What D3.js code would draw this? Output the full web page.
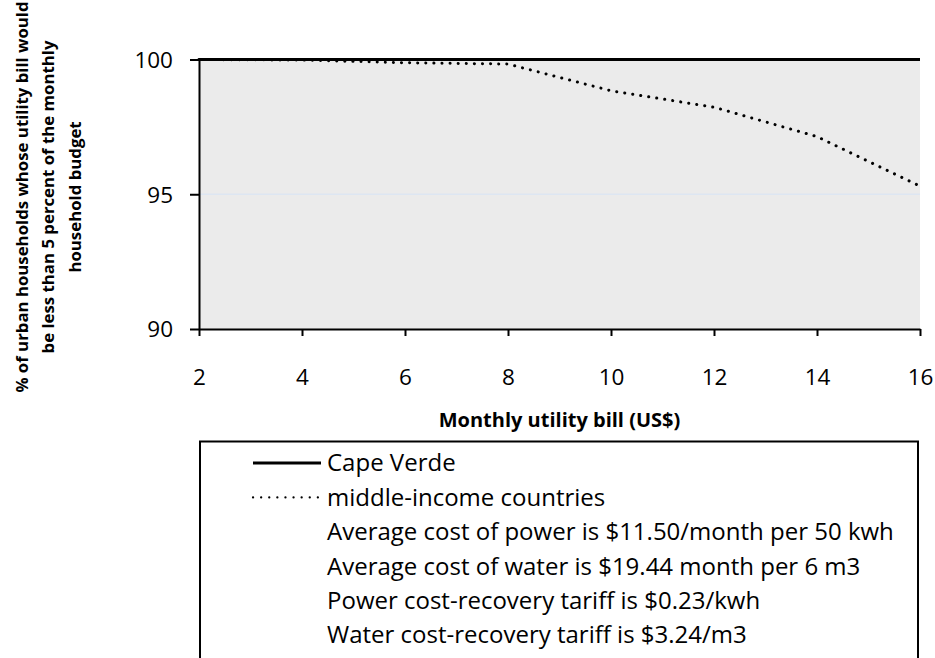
<!DOCTYPE html>
<html>
<head>
<meta charset="utf-8">
<script src="https://cdn.jsdelivr.net/npm/d3@7"></script>
<style>
  body { margin:0; background:#fff; }
  text { font-family: "Open Sans", "DejaVu Sans", sans-serif; fill:#000; }
</style>
</head>
<body>
<div id="chart"></div>
<script>
// datos
var bills = [2, 4, 6, 8, 10, 12, 14, 16]
var capeVerde = [100, 100, 100, 100, 100, 100, 100, 100]
var middleIncome = [100, 99.98, 99.88, 99.83, 98.84, 98.23, 97.14, 95.3]
var xTicks = [2, 4, 6, 8, 10, 12, 14, 16]
var yTicks = [90, 95, 100]
var yTitle = ["% of urban households whose utility bill would", "be less than 5 percent of the monthly", "household budget"]
var xTitle = "Monthly utility bill (US$)"
var legendLines = [
  {label:"Cape Verde", tipo:"solid"},
  {label:"middle-income countries", tipo:"dot"},
  {label:"Average cost of power is $11.50/month per 50 kwh", tipo:"none"},
  {label:"Average cost of water is $19.44 month per 6 m3", tipo:"none"},
  {label:"Power cost-recovery tariff is $0.23/kwh", tipo:"none"},
  {label:"Water cost-recovery tariff is $3.24/m3", tipo:"none"}
]

var W = 935, H = 658
var svg = d3.select("#chart").append("svg").attr("width", W).attr("height", H)

var escalaX = d3.scaleLinear().domain([2, 16]).range([199, 920])
var escalaY = d3.scaleLinear().domain([90, 100]).range([329, 59.5])

// fondo del area de trazado
svg.append("rect")
  .attr("x", escalaX(2)).attr("y", escalaY(100))
  .attr("width", escalaX(16) - escalaX(2))
  .attr("height", escalaY(90) - escalaY(100))
  .attr("fill", "#ebebeb")

// linea de rejilla en 95
svg.append("line")
  .attr("x1", escalaX(2)).attr("x2", escalaX(16))
  .attr("y1", escalaY(95)).attr("y2", escalaY(95))
  .attr("stroke", "#dde6f2").attr("stroke-width", 1.5)

// ejes
var ejeX = svg.append("g")
  .attr("transform", "translate(0," + escalaY(90) + ")")
  .call(d3.axisBottom(escalaX).tickValues(xTicks).tickSize(7).tickPadding(49).tickSizeOuter(0))
var ejeY = svg.append("g")
  .attr("transform", "translate(" + escalaX(2) + ",0)")
  .call(d3.axisLeft(escalaY).tickValues(yTicks).tickSize(9).tickPadding(17).tickSizeOuter(0))
ejeX.selectAll("path, line").attr("stroke", "#000").attr("stroke-width", 2)
ejeY.selectAll("path, line").attr("stroke", "#000").attr("stroke-width", 2)
ejeX.selectAll("text").style("font-size", "22.5px").attr("fill", "#000").attr("dy", "0")
ejeY.selectAll("text").style("font-size", "22.5px").attr("fill", "#000").attr("dy", "0.35em")

// series
var linea = d3.line().x(function(d){ return escalaX(d[0]) }).y(function(d){ return escalaY(d[1]) })
svg.append("path")
  .datum(bills.map(function(b, i){ return [b, middleIncome[i]] }))
  .attr("d", linea)
  .attr("fill", "none").attr("stroke", "#000").attr("stroke-width", 3)
  .attr("stroke-linecap", "round").attr("stroke-dasharray", "0.1,8")
svg.append("path")
  .datum(bills.map(function(b, i){ return [b, capeVerde[i]] }))
  .attr("d", linea)
  .attr("fill", "none").attr("stroke", "#000").attr("stroke-width", 3)

// titulos
svg.append("text")
  .attr("x", (escalaX(2) + escalaX(16)) / 2).attr("y", 420).attr("dy", "0.35em")
  .attr("text-anchor", "middle")
  .style("font-size", "20px").style("font-weight", "bold")
  .text(xTitle)

var tituloY = svg.append("text")
  .attr("transform", "translate(0,197) rotate(-90)")
  .attr("text-anchor", "middle")
  .style("font-size", "16.8px").style("font-weight", "bold")
tituloY.selectAll("tspan").data(yTitle).enter().append("tspan")
  .attr("x", 0).attr("y", function(d, i){ return 22 + i * 26.5 }).attr("dy", "0.35em")
  .text(function(d){ return d })

// leyenda
var ley = svg.append("g")
ley.append("rect")
  .attr("x", 200).attr("y", 441.5).attr("width", 718).attr("height", 240)
  .attr("fill", "#fff").attr("stroke", "#000").attr("stroke-width", 2)
var filas = ley.selectAll("g.fila").data(legendLines).enter().append("g")
  .attr("class", "fila")
  .attr("transform", function(d, i){ return "translate(0," + (463 + i * 34.4) + ")" })
filas.filter(function(d){ return d.tipo == "solid" }).append("line")
  .attr("x1", 253).attr("x2", 321).attr("stroke", "#000").attr("stroke-width", 3)
filas.filter(function(d){ return d.tipo == "dot" }).append("line")
  .attr("x1", 253).attr("x2", 321).attr("stroke", "#000").attr("stroke-width", 2.2)
  .attr("stroke-linecap", "round").attr("stroke-dasharray", "0.1,8")
filas.append("text")
  .attr("x", 327).attr("dy", "0.35em")
  .style("font-size", "24px")
  .text(function(d){ return d.label })
</script>
</body>
</html>
